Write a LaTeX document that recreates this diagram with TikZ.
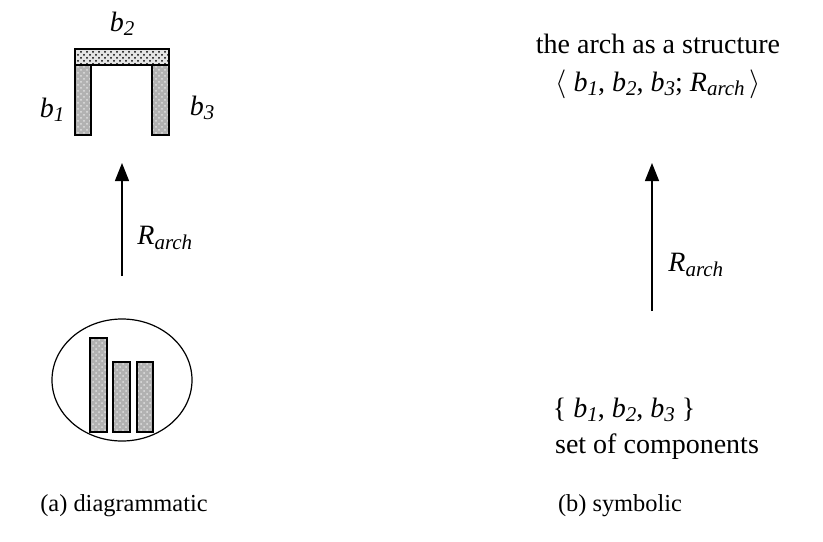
\documentclass[tikz,border=0pt]{standalone}
\usepackage{fontspec}
\setmainfont{Liberation Serif}
\usetikzlibrary{patterns,arrows.meta,shapes.geometric}
\newcommand{\lowsub}[1]{\raisebox{-0.35ex}{\fontsize{10.5}{12}\selectfont\textit{#1}}}
\newcommand{\bx}[1]{\textit{b}\lowsub{#1}}
\newcommand{\Rarch}{\textit{R}\lowsub{arch}}
\tikzset{
  block/.style={draw=black,line width=1pt,preaction={fill=gray!60},pattern=crosshatch dots,pattern color=gray!25},
  beam/.style={draw=black,line width=1pt,preaction={fill=gray!20},pattern=crosshatch dots,pattern color=black},
  relarrow/.style={line width=.7pt,-{Triangle[length=9pt,width=7pt]}},
  lbl/.style={inner sep=1pt},
  subcaption/.style={inner sep=1pt,font=\fontsize{12.2}{14}\selectfont}
}
\begin{document}
\begin{tikzpicture}[x=0.5pt,y=-0.5pt,font=\fontsize{14}{17}\selectfont]
  \useasboundingbox (0,0) rectangle (823,541);
  \draw[block] (75,65) rectangle (91,135);
  \draw[block] (152,65) rectangle (169,135);
  \draw[beam] (75,49) rectangle (169,65);
  \node[lbl] (b2) at (122,24) {\bx{2}};
  \node[lbl] (b1) at (52,110) {\bx{1}};
  \node[lbl] (b3) at (202,108) {\bx{3}};
  \coordinate (leftfrom) at (122,276);
  \coordinate (leftto) at (122,163);
  \draw[relarrow] (leftfrom) -- (leftto);
  \node[lbl,anchor=west] (rleft) at (135,238) {\Rarch};
  \node[draw,ellipse,line width=.6pt,minimum width=70pt,minimum height=61pt] (set) at (122,380) {};
  \draw[block] (90,338) rectangle (107,432);
  \draw[block] (113,362) rectangle (130,432);
  \draw[block] (137,362) rectangle (153,432);
  \node[subcaption] (capa) at (124,506) {(a) diagrammatic};
  \node[lbl] (title) at (658,44) {the arch as a structure};
  \node[lbl] (tuple) at (658,84) {$\langle$ \bx{1}, \bx{2}, \bx{3}; \Rarch\,$\rangle$};
  \coordinate (rightfrom) at (652,311);
  \coordinate (rightto) at (652,163);
  \draw[relarrow] (rightfrom) -- (rightto);
  \node[lbl,anchor=west] (rright) at (666,265) {\Rarch};
  \node[lbl] (comps) at (624,410) {\{ \bx{1}, \bx{2}, \bx{3} \}};
  \node[lbl] (setlbl) at (657,447) {set of components};
  \node[subcaption] (capb) at (620,506) {(b) symbolic};
\end{tikzpicture}
\end{document}
